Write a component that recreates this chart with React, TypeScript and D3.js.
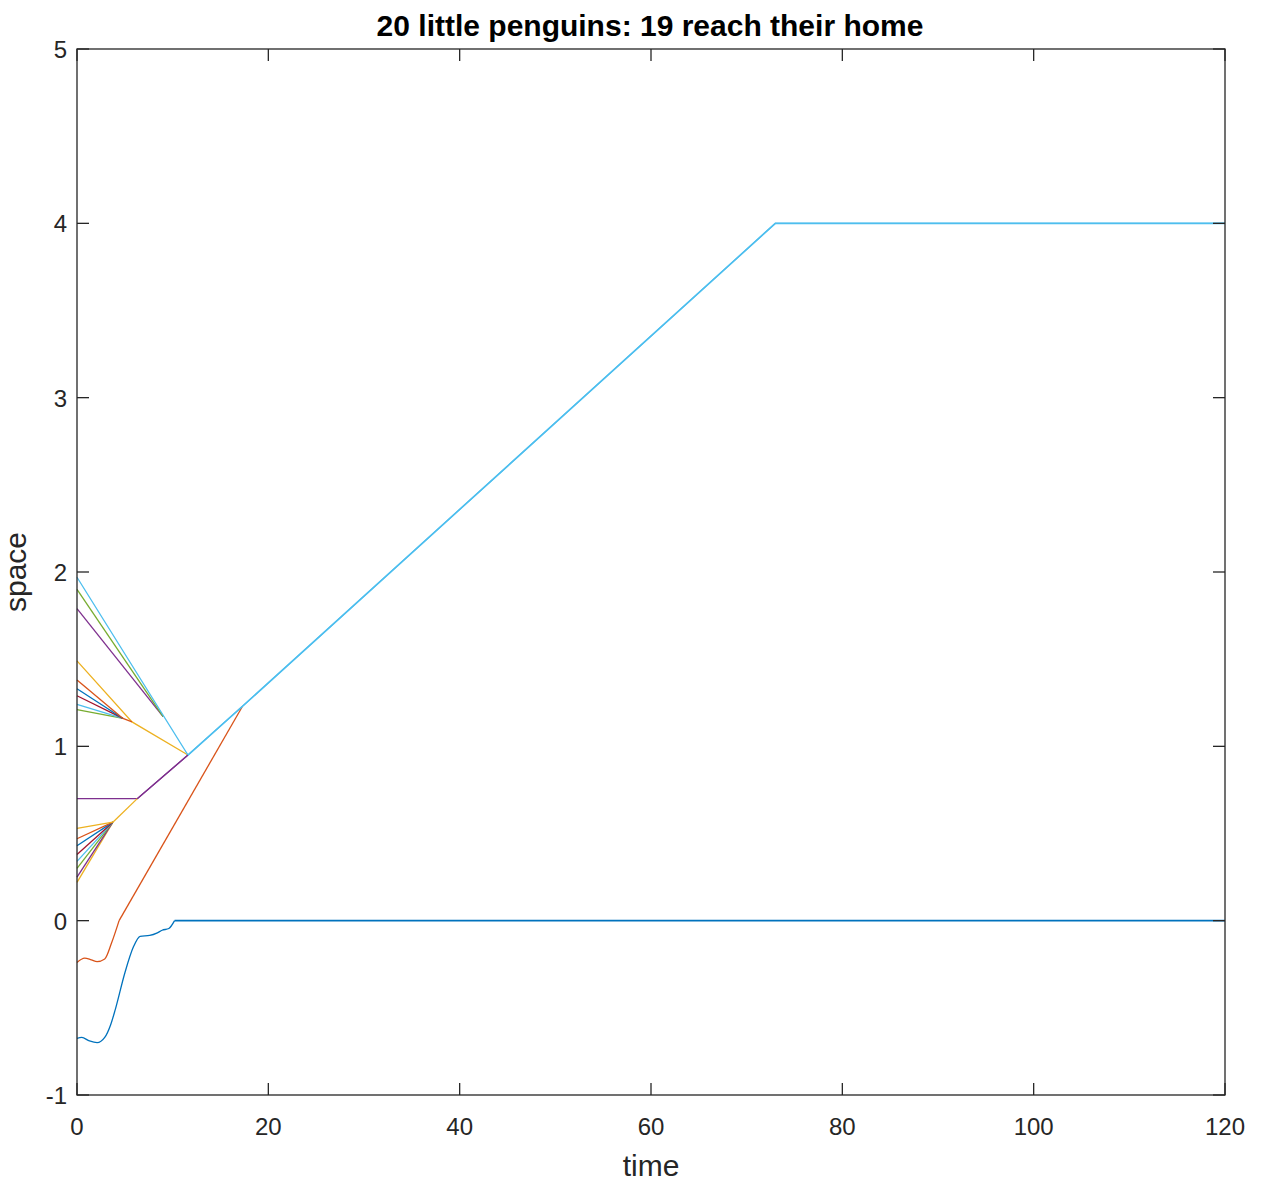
import * as React from "react";
import * as d3 from "d3";

const W = 1269;
const H = 1189;
const M = { left: 77, right: 1225, top: 49, bottom: 1095 };

const MATLAB = ["#0072BD", "#D95319", "#EDB120", "#7E2F8E", "#77AC30", "#4DBEEE", "#A2142F"];

const title = "20 little penguins: 19 reach their home";
const xTicks = [0, 20, 40, 60, 80, 100, 120];
const yTicks = [-1, 0, 1, 2, 3, 4, 5];

type Pt = [number, number];

// shared route once the herd is together: walk home at 4
const homeRoute: Pt[] = [[11.6, 0.95], [17.3, 1.23], [73, 4.0], [120, 4.0]];
const lowerJoin: Pt[] = [[3.75, 0.565], [6.3, 0.7]];
const middleJoin: Pt[] = [[4.8, 1.16], [5.75, 1.14]];
const upperJoin: Pt[] = [[9.0, 1.17]];

// penguin 1 never leaves 0
const penguin1Wiggle: Pt[] = [
  [0, -0.675], [0.5, -0.67], [1.3, -0.69], [2.1, -0.7], [2.9, -0.67], [3.5, -0.6],
  [4.0, -0.51], [5.0, -0.3], [5.9, -0.15], [6.6, -0.09], [7.6, -0.085], [8.4, -0.07],
  [8.9, -0.055], [9.6, -0.045], [10.2, 0],
];
const penguin1Rest: Pt[] = [[10.2, 0], [120, 0]];
const penguin2Wiggle: Pt[] = [
  [0, -0.24], [0.8, -0.215], [1.5, -0.225], [2.1, -0.235], [2.9, -0.22], [3.6, -0.13], [4.4, 0],
];
const penguin2Rest: Pt[] = [[4.4, 0], [17.3, 1.23]];

const lowerStarts = [0.22, 0.25, 0.3, 0.34, 0.38, 0.43, 0.47, 0.53]; // penguins 3-10
const waiterStart = 0.7; // penguin 11
const middleStarts = [1.21, 1.24, 1.29, 1.33, 1.38]; // penguins 12-16
const middleLeader = 1.49; // penguin 17
const upperStarts = [1.79, 1.9]; // penguins 18-19
const leaderStart = 1.97; // penguin 20

// each penguin: its own (smooth) wiggle, then straight walk until it joins the group ahead
const penguins: { wiggle?: Pt[]; walk: Pt[]; w?: number }[] = [
  { wiggle: penguin1Wiggle, walk: penguin1Rest, w: 1.6 },
  { wiggle: penguin2Wiggle, walk: penguin2Rest },
  ...lowerStarts.map((s) => ({ walk: [[0, s] as Pt, lowerJoin[0]] })),
  { walk: [[0, waiterStart], [6.3, waiterStart], homeRoute[0]] },
  ...middleStarts.map((s) => ({ walk: [[0, s] as Pt, middleJoin[0]] })),
  { walk: [[0, middleLeader], middleJoin[1], homeRoute[0]] },
  ...upperStarts.map((s) => ({ walk: [[0, s] as Pt, upperJoin[0]] })),
  { walk: [[0, leaderStart], ...homeRoute] },
];
// short shared stretches walked together (drawn in the colour of the one on top)
const sharedBits: { pts: Pt[]; who: number }[] = [
  { pts: [lowerJoin[0], lowerJoin[1]], who: 9 },
  { pts: [lowerJoin[1], homeRoute[0]], who: 10 },
  { pts: [middleJoin[0], middleJoin[1]], who: 15 },
];

export default function App() {
  const x = d3.scaleLinear().domain([0, 120]).range([M.left, M.right]);
  const y = d3.scaleLinear().domain([-1, 5]).range([M.bottom, M.top]);
  const lineStraight = d3.line<Pt>().x((d) => x(d[0])).y((d) => y(d[1]));
  const lineSmooth = d3.line<Pt>().x((d) => x(d[0])).y((d) => y(d[1])).curve(d3.curveMonotoneX);
  const axisColor = "#262626";
  const font = "'Liberation Sans', Arial, Helvetica, sans-serif";
  const tl = 12;

  return (
    <svg width={W} height={H} style={{ position: "absolute", left: 0, top: 0, background: "#fff" }} fontFamily={font}>
      <rect x={0} y={0} width={W} height={H} fill="#fff" />
      <g fill="none" strokeWidth={1.3}>
        {penguins.map((p, i) => (
          <g key={i} stroke={MATLAB[i % MATLAB.length]}>
            {p.wiggle && <path d={lineSmooth(p.wiggle) || ""} />}
            <path d={lineStraight(p.walk) || ""} strokeWidth={p.w} />
          </g>
        ))}
        {sharedBits.map((b, i) => (
          <path key={"s" + i} d={lineStraight(b.pts) || ""} stroke={MATLAB[b.who % MATLAB.length]} />
        ))}
        <path d={lineStraight(homeRoute) || ""} stroke={MATLAB[19 % MATLAB.length]} strokeWidth={1.6} />
      </g>
      <g stroke={axisColor} strokeWidth={1.3} fill="none">
        <rect x={M.left} y={M.top} width={M.right - M.left} height={M.bottom - M.top} />
        {xTicks.map((t) => (
          <g key={"x" + t}>
            <line x1={x(t)} x2={x(t)} y1={M.bottom} y2={M.bottom - tl} />
            <line x1={x(t)} x2={x(t)} y1={M.top} y2={M.top + tl} />
          </g>
        ))}
        {yTicks.map((t) => (
          <g key={"y" + t}>
            <line x1={M.left} x2={M.left + tl} y1={y(t)} y2={y(t)} />
            <line x1={M.right} x2={M.right - tl} y1={y(t)} y2={y(t)} />
          </g>
        ))}
      </g>
      <g fill={axisColor} fontSize={24}>
        {xTicks.map((t) => (
          <text key={"xl" + t} x={x(t)} y={M.bottom + 40} textAnchor="middle">{t}</text>
        ))}
        {yTicks.map((t) => (
          <text key={"yl" + t} x={M.left - 10} y={y(t) + 9} textAnchor="end">{t}</text>
        ))}
        <text x={(M.left + M.right) / 2} y={1176} textAnchor="middle" fontSize={30}>time</text>
        <text transform={`translate(26,${(M.top + M.bottom) / 2}) rotate(-90)`} textAnchor="middle" fontSize={30}>space</text>
      </g>
      <text x={650} y={36} textAnchor="middle" fontSize={30} fontWeight="bold" fill="#000">{title}</text>
    </svg>
  );
}
